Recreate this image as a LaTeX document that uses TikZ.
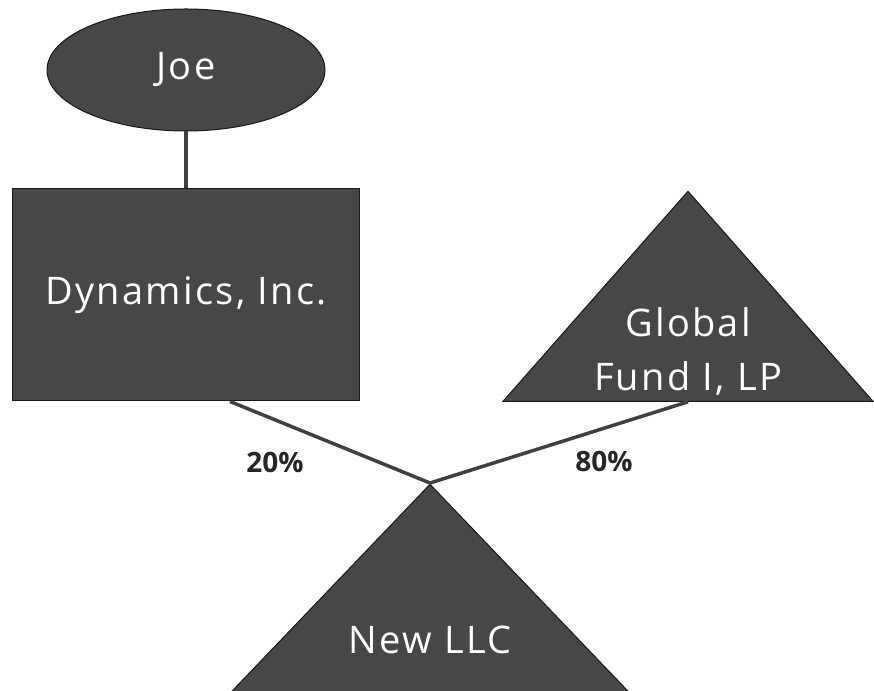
\documentclass[tikz,border=0pt]{standalone}
\usepackage{fontspec}
\setmainfont{Open Sans}
\usepackage{tikz}
\usetikzlibrary{positioning,calc,shapes.geometric}

\begin{document}
\begin{tikzpicture}[
  x=1pt, y=1pt,
  entity/.style={draw=black!90, line width=1pt, fill=black!72, text=white, font=\fontsize{38}{44}\selectfont\addfontfeature{LetterSpace=6}},
  corp/.style={entity, rectangle, minimum width=347pt, minimum height=212pt},
  person/.style={entity, ellipse, minimum width=278pt, minimum height=122pt, inner sep=0pt},
  fundtri/.style={entity, isosceles triangle, isosceles triangle stretches, shape border rotate=90, minimum width=370pt, minimum height=210pt, inner sep=0pt},
  llctri/.style={fundtri, minimum width=402pt},
  intext/.style={align=center, text=white, font=\fontsize{38}{54}\selectfont\addfontfeature{LetterSpace=6}},
  pct/.style={font=\fontsize{28}{30}\selectfont\bfseries, text=black!85},
  link/.style={draw=black!75, line width=3.5pt},
  ]
  \useasboundingbox (0,0) rectangle (874,690);

  \node[corp] (dyn) at (186,395) {Dynamics, Inc.};
  \node[person, above=57pt of dyn] (joe) {Joe};
  \draw[link] (joe) -- (dyn);

  \node[fundtri, anchor=apex] (fund) at (688,500) {};
  \node[intext] (fundtxt) at ([yshift=50pt]fund.lower side) {Global\\Fund I, LP};

  \node[llctri, anchor=apex] (llc) at (430,207) {};
  \node[intext] (llctxt) at ([yshift=55pt]llc.lower side) {New LLC};

  \draw[link] ([xshift=44pt]dyn.south) -- (llc.apex);
  \draw[link] (fund.lower side) -- (llc.apex);

  \node[pct] (p20) at (275,228) {20\%};
  \node[pct] (p80) at (604,229) {80\%};
\end{tikzpicture}
\end{document}
